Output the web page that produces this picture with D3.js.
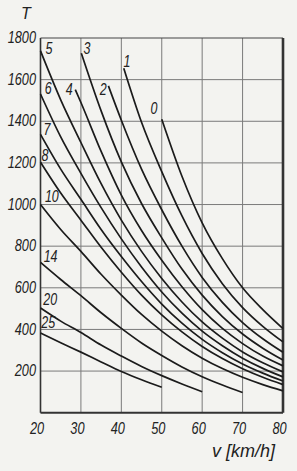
<!DOCTYPE html>
<html>
<head>
<meta charset="utf-8">
<script src="https://cdn.jsdelivr.net/npm/d3@7"></script>
<style>
  body { margin: 0; background: #f3f3f0; }
  svg { display: block; }
  text { font-family: "Liberation Sans", Arial, sans-serif; font-style: italic; fill: #222; }
</style>
</head>
<body>
<svg id="chart" width="297" height="471"></svg>
<script>
// speed ticks (km/h) and load ticks (T)
const xTicks = [20, 30, 40, 50, 60, 70, 80];
const yTicks = [200, 400, 600, 800, 1000, 1200, 1400, 1600, 1800];

// curves, [v, T] (label = grade)
const curve0 = [[50, 1410], [55, 1136], [60, 912], [65, 740], [70, 600], [75, 495], [80, 404]];
const curve1 = [[40.6, 1655], [45, 1395], [50, 1158], [55, 945], [60, 765], [65, 620], [70, 505], [75, 415], [80, 340]];
const curve2 = [[36.8, 1570], [40, 1405], [45, 1170], [50, 975], [55, 800], [60, 650], [65, 530], [70, 433], [75, 355], [80, 290]];
const curve3 = [[30.1, 1727], [35, 1450], [40, 1205], [45, 1005], [50, 840], [55, 690], [60, 565], [65, 462], [70, 378], [75, 310], [80, 253]];
const curve4 = [[28.6, 1552], [30, 1490], [35, 1255], [40, 1045], [45, 875], [50, 732], [55, 605], [60, 495], [65, 405], [70, 332], [75, 272], [80, 225]];
const curve5 = [[20, 1738], [25, 1503], [30, 1298], [35, 1100], [40, 925], [45, 775], [50, 645], [55, 532], [60, 436], [65, 358], [70, 292], [75, 240], [80, 196]];
const curve6 = [[20, 1531], [25, 1325], [30, 1150], [35, 985], [40, 835], [45, 700], [50, 580], [55, 478], [60, 392], [65, 322], [70, 262], [75, 213], [80, 172]];
const curve7 = [[20, 1337], [25, 1170], [30, 1025], [35, 880], [40, 750], [45, 630], [50, 522], [55, 430], [60, 352], [65, 288], [70, 234], [75, 190], [80, 152]];
const curve8 = [[20, 1203], [25, 1055], [30, 925], [35, 795], [40, 675], [45, 565], [50, 470], [55, 388], [60, 318], [65, 260], [70, 211], [75, 170], [80, 135]];
const curve10 = [[20, 1000], [25, 880], [30, 775], [35, 665], [40, 565], [45, 472], [50, 392], [55, 322], [60, 262], [65, 212], [70, 170], [75, 135], [80, 105]];
const curve14 = [[20, 722], [25, 640], [30, 562], [35, 480], [40, 405], [45, 335], [50, 275], [55, 220], [60, 173], [65, 133], [70, 97]];
const curve20 = [[20, 503], [25, 440], [30, 385], [35, 325], [40, 272], [45, 222], [50, 178], [55, 138], [60, 101]];
const curve25 = [[20, 383], [25, 336], [30, 291], [35, 244], [40, 198], [45, 158], [50, 122]];

const curveNames = ["0", "1", "2", "3", "4", "5", "6", "7", "8", "10", "14", "20", "25"];
const curveData = [curve0, curve1, curve2, curve3, curve4, curve5, curve6, curve7, curve8, curve10, curve14, curve20, curve25];
// where each label sits, in chart units
const labelAt = [[48.1, 1463], [41.4, 1689], [35.5, 1555], [31.5, 1752], [27.1, 1555], [22.1, 1752],
                 [21.9, 1559], [21.6, 1362], [21.1, 1237], [22.8, 1041], [22.5, 753], [22.4, 546], [21.9, 436]];

const svg = d3.select("#chart");

let x = d3.scaleLinear().domain([20, 80]).range([40.5, 283]);
let y = d3.scaleLinear().domain([0, 1800]).range([412.7, 38]);

// grid
svg.append("g")
    .selectAll("line")
    .data(xTicks.slice(1, -1))
    .enter().append("line")
    .attr("x1", (d) => x(d)).attr("x2", (d) => x(d))
    .attr("y1", y(1800)).attr("y2", y(0))
    .attr("stroke", "#7a7a7a").attr("stroke-width", 1);

svg.append("g")
    .selectAll("line")
    .data(yTicks.slice(0, -1))
    .enter().append("line")
    .attr("x1", x(20)).attr("x2", x(80))
    .attr("y1", (d) => y(d)).attr("y2", (d) => y(d))
    .attr("stroke", "#7a7a7a").attr("stroke-width", 1);

// frame
svg.append("line").attr("x1", x(20)).attr("x2", x(80)).attr("y1", y(1800)).attr("y2", y(1800))
    .attr("stroke", "#444").attr("stroke-width", 1.2);
svg.append("line").attr("x1", x(20)).attr("x2", x(20)).attr("y1", y(1800)).attr("y2", y(0))
    .attr("stroke", "#333").attr("stroke-width", 1.6);
svg.append("line").attr("x1", x(20)).attr("x2", x(80)).attr("y1", y(0)).attr("y2", y(0))
    .attr("stroke", "#333").attr("stroke-width", 2);
svg.append("line").attr("x1", x(80)).attr("x2", x(80)).attr("y1", y(1800)).attr("y2", y(0))
    .attr("stroke", "#333").attr("stroke-width", 2.6);

// curves
let line = d3.line()
    .x((d) => x(d[0]))
    .y((d) => y(d[1]))
    .curve(d3.curveMonotoneX);

svg.append("g")
    .selectAll("path")
    .data(curveData)
    .enter().append("path")
    .attr("d", line)
    .attr("fill", "none")
    .attr("stroke", "#1b1b1b")
    .attr("stroke-width", 1.7);

// curve labels
svg.append("g")
    .selectAll("text")
    .data(curveNames)
    .enter().append("text")
    .attr("transform", (d, i) => "translate(" + x(labelAt[i][0]) + "," + y(labelAt[i][1]) + ") scale(0.78,1)")
    .attr("text-anchor", "middle")
    .attr("dominant-baseline", "central")
    .style("font-size", "16px")
    .text((d) => d);

// y tick labels
svg.append("g")
    .selectAll("text")
    .data(yTicks)
    .enter().append("text")
    .attr("transform", (d) => "translate(36," + (y(d) - 1) + ") scale(0.75,1)")
    .attr("text-anchor", "end")
    .attr("dominant-baseline", "central")
    .style("font-size", "17px")
    .text((d) => d);

// x tick labels
svg.append("g")
    .selectAll("text")
    .data(xTicks)
    .enter().append("text")
    .attr("transform", (d) => "translate(" + (x(d) - 3.5) + ",428) scale(0.8,1)")
    .attr("text-anchor", "middle")
    .attr("dominant-baseline", "central")
    .style("font-size", "16px")
    .text((d) => d);

// axis titles
svg.append("text")
    .attr("x", 26).attr("y", 13)
    .attr("text-anchor", "middle")
    .attr("dominant-baseline", "central")
    .style("font-size", "16px")
    .text("T");

svg.append("text")
    .attr("x", 212).attr("y", 457)
    .style("font-size", "18px")
    .text("v [km/h]");
</script>
</body>
</html>
